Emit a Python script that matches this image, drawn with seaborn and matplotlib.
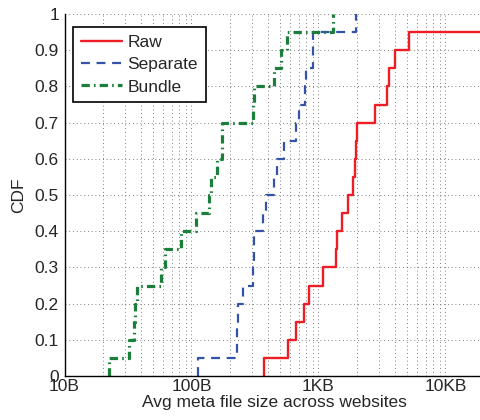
import matplotlib
matplotlib.use("Agg")
import matplotlib.pyplot as plt
import numpy as np
import seaborn as sns

# Average meta file size (bytes) per website, 20 websites per series
raw = [374, 572, 661, 769, 847, 1079, 1374, 1398, 1525, 1700,
       1880, 1950, 1970, 2010, 2786, 3467, 3600, 3980, 5160, 30000]
separate = [113, 227, 230, 234, 256, 303, 308, 312, 364, 386,
            446, 474, 538, 665, 702, 783, 797, 905, 910, 1972]
bundle = [22.5, 32.4, 35.3, 35.6, 36.9, 57.2, 61.8, 82.2, 108.5, 138,
          142.4, 158.8, 172.9, 173.9, 306.6, 312.3, 448.7, 511, 565, 1294]

series_names = ["Raw", "Separate", "Bundle"]
x_ticks = [10, 100, 1000, 10000]
x_tick_labels = ["10B", "100B", "1KB", "10KB"]
y_ticks = [0, 0.1, 0.2, 0.3, 0.4, 0.5, 0.6, 0.7, 0.8, 0.9, 1]
y_tick_labels = ["0", "0.1", "0.2", "0.3", "0.4", "0.5", "0.6", "0.7", "0.8", "0.9", "1"]

sns.set_style("white")
plt.rcParams["font.family"] = ["Liberation Sans", "DejaVu Sans"]
plt.rcParams["font.size"] = 12.5

fig = plt.figure(figsize=(4.8, 4.2), dpi=100)
ax = fig.add_axes([64.5 / 480, 44 / 420, 419.2 / 480, 362 / 420])

styles = [
    dict(color="#EE1C25", linestyle="-", linewidth=1.7),
    dict(color="#3352A8", linestyle=(0, (4, 3)), linewidth=1.6),
    dict(color="#1B7F3B", linestyle=(0, (2.6, 1.3, 0.5, 1.3)), linewidth=2.3),
]
for data, name, st in zip([raw, separate, bundle], series_names, styles):
    sns.ecdfplot(x=data, ax=ax, log_scale=True, label=name, **st)

# start each step curve at its first value (no segment along the x axis)
for line in ax.lines:
    xd = np.array(line.get_xdata(), dtype=float)
    if len(xd) > 1:
        xd[0] = xd[1]
        line.set_xdata(xd)

ax.set_xlim(10, 20000)
ax.set_ylim(0, 1)
ax.set_xticks(x_ticks)
ax.set_xticklabels(x_tick_labels)
ax.set_yticks(y_ticks)
ax.set_yticklabels(y_tick_labels)

ax.grid(True, which="major", axis="both", color="#555555", linewidth=0.6,
        linestyle=(0, (1, 3.5)))
ax.grid(True, which="minor", axis="x", color="#555555", linewidth=0.6,
        linestyle=(0, (1, 3.5)))

for s in ["top", "right"]:
    ax.spines[s].set_visible(False)
for s in ["left", "bottom"]:
    ax.spines[s].set_color("black")
    ax.spines[s].set_linewidth(1.0)

ax.tick_params(axis="both", which="major", direction="in", length=5, width=0.8,
               color="black", labelsize=12.5)
ax.tick_params(axis="x", which="major", pad=2)
ax.tick_params(axis="y", which="major", pad=4)
ax.tick_params(axis="x", which="minor", direction="in", length=3, width=0.6,
               color="black")
ax.tick_params(axis="y", which="minor", left=False)

ax.set_xlabel("Avg meta file size across websites", fontsize=12.5, labelpad=1)
ax.set_ylabel("CDF", fontsize=12.5, labelpad=6)

leg = ax.legend(loc="upper left", bbox_to_anchor=(8.2 / 419.2, (376 - 26.7) / 362),
                borderaxespad=0, frameon=True, fancybox=False, framealpha=1,
                edgecolor="black", fontsize=12.5, handlelength=2.4,
                handletextpad=0.3, labelspacing=0.42, borderpad=0.45)
leg.get_frame().set_linewidth(1.2)

fig.savefig("out.png", dpi=100)
